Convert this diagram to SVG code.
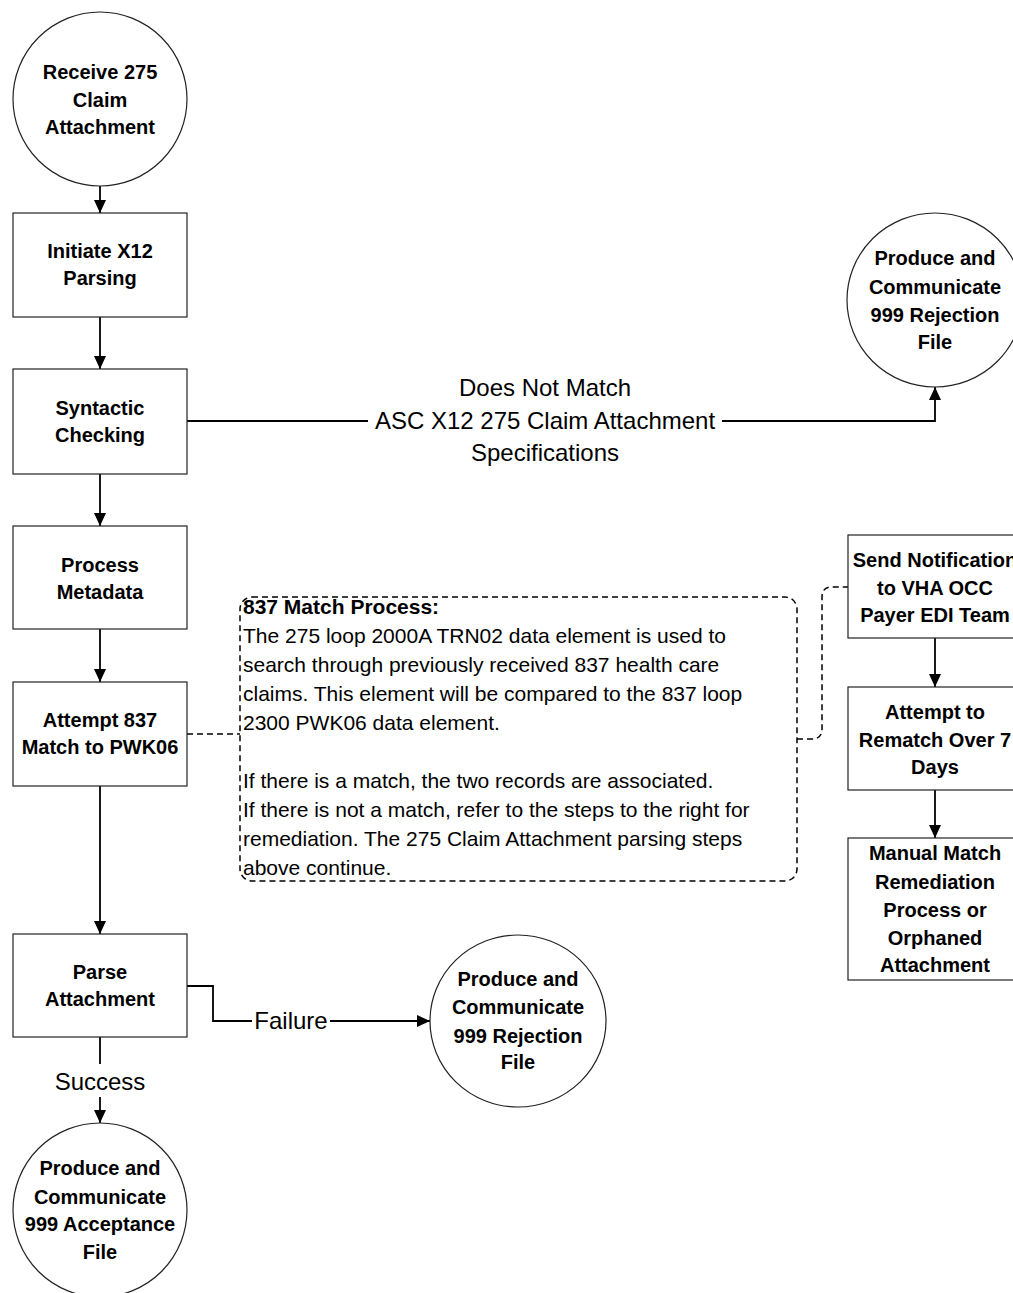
<svg xmlns="http://www.w3.org/2000/svg" width="1013" height="1293" viewBox="0 0 1013 1293">
<defs>
<marker id="arr" markerUnits="userSpaceOnUse" markerWidth="14" markerHeight="12" refX="13" refY="6" orient="auto">
<path d="M0,0 L13,6 L0,12 z" fill="#000"/>
</marker>
<style>
.shape{fill:#fff;stroke:#222;stroke-width:1.2}
.nt{font-family:"Liberation Sans",Arial,sans-serif;font-weight:bold;font-size:20px;fill:#000;text-anchor:middle}
.lbl{font-family:"Liberation Sans",Arial,sans-serif;font-size:24px;fill:#000;text-anchor:middle}
.ct{font-family:"Liberation Sans",Arial,sans-serif;font-size:21px;fill:#000}
.edge{fill:none;stroke:#000;stroke-width:1.8}
.dash{fill:none;stroke:#000;stroke-width:1.5;stroke-dasharray:6 4}
</style>
</defs>
<rect width="1013" height="1293" fill="#fff"/>

<g id="connectors">
<line class="edge" x1="100" y1="186" x2="100" y2="213" marker-end="url(#arr)"/>
<line class="edge" x1="100" y1="317" x2="100" y2="369" marker-end="url(#arr)"/>
<line class="edge" x1="100" y1="474" x2="100" y2="526" marker-end="url(#arr)"/>
<line class="edge" x1="100" y1="629" x2="100" y2="682" marker-end="url(#arr)"/>
<line class="edge" x1="100" y1="786" x2="100" y2="934" marker-end="url(#arr)"/>
<path class="edge" d="M187,421 H935 V387" marker-end="url(#arr)"/>
<rect x="368" y="405" width="354" height="32" fill="#fff"/>
<text class="lbl" x="545" y="396">Does Not Match</text>
<text class="lbl" x="545" y="429">ASC X12 275 Claim Attachment</text>
<text class="lbl" x="545" y="461">Specifications</text>
<path class="edge" d="M187,986 H213 V1021 H430" marker-end="url(#arr)"/>
<rect x="252" y="1006" width="78" height="30" fill="#fff"/>
<text class="lbl" x="291" y="1029">Failure</text>
<line class="edge" x1="100" y1="1037" x2="100" y2="1123" marker-end="url(#arr)"/>
<rect x="50" y="1064" width="100" height="33" fill="#fff"/>
<text class="lbl" x="100" y="1090">Success</text>
<line class="dash" x1="187" y1="734" x2="240" y2="734"/>
<path class="dash" d="M797,739 H812 Q822,739 822,729 V597 Q822,587 832,587 H848"/>
<line class="edge" x1="935" y1="638" x2="935" y2="687" marker-end="url(#arr)"/>
<line class="edge" x1="935" y1="790" x2="935" y2="838" marker-end="url(#arr)"/>
</g>

<g id="receive">
<ellipse class="shape" cx="100" cy="99" rx="87" ry="87"/>
<text class="nt"><tspan x="100" y="79">Receive 275</tspan><tspan x="100" y="107">Claim</tspan><tspan x="100" y="134">Attachment</tspan></text>
</g>
<g id="initiate">
<rect class="shape" x="13" y="213" width="174" height="104"/>
<text class="nt"><tspan x="100" y="258">Initiate X12</tspan><tspan x="100" y="285">Parsing</tspan></text>
</g>
<g id="syntactic">
<rect class="shape" x="13" y="369" width="174" height="105"/>
<text class="nt"><tspan x="100" y="415">Syntactic</tspan><tspan x="100" y="442">Checking</tspan></text>
</g>
<g id="metadata">
<rect class="shape" x="13" y="526" width="174" height="103"/>
<text class="nt"><tspan x="100" y="572">Process</tspan><tspan x="100" y="599">Metadata</tspan></text>
</g>
<g id="attempt837">
<rect class="shape" x="13" y="682" width="174" height="104"/>
<text class="nt"><tspan x="100" y="727">Attempt 837</tspan><tspan x="100" y="754">Match to PWK06</tspan></text>
</g>
<g id="parse">
<rect class="shape" x="13" y="934" width="174" height="103"/>
<text class="nt"><tspan x="100" y="979">Parse</tspan><tspan x="100" y="1006">Attachment</tspan></text>
</g>
<g id="reject1">
<ellipse class="shape" cx="935" cy="300" rx="88" ry="87"/>
<text class="nt"><tspan x="935" y="265">Produce and</tspan><tspan x="935" y="294">Communicate</tspan><tspan x="935" y="322">999 Rejection</tspan><tspan x="935" y="349">File</tspan></text>
</g>
<g id="reject2">
<ellipse class="shape" cx="518" cy="1021" rx="88" ry="86"/>
<text class="nt"><tspan x="518" y="986">Produce and</tspan><tspan x="518" y="1014">Communicate</tspan><tspan x="518" y="1043">999 Rejection</tspan><tspan x="518" y="1069">File</tspan></text>
</g>
<g id="accept">
<ellipse class="shape" cx="100" cy="1210" rx="87" ry="87"/>
<text class="nt"><tspan x="100" y="1175">Produce and</tspan><tspan x="100" y="1204">Communicate</tspan><tspan x="100" y="1231">999 Acceptance</tspan><tspan x="100" y="1259">File</tspan></text>
</g>
<g id="callout">
<rect x="240" y="597" width="557" height="284" rx="12" ry="12" fill="#fff" stroke="#000" stroke-width="1.5" stroke-dasharray="6 4"/>
<text class="ct" x="243" y="614" font-weight="bold">837 Match Process:</text>
<text class="ct" x="243" y="643">The 275 loop 2000A TRN02 data element is used to</text>
<text class="ct" x="243" y="672">search through previously received 837 health care</text>
<text class="ct" x="243" y="701">claims. This element will be compared to the 837 loop</text>
<text class="ct" x="243" y="730">2300 PWK06 data element.</text>
<text class="ct" x="243" y="788">If there is a match, the two records are associated.</text>
<text class="ct" x="243" y="817">If there is not a match, refer to the steps to the right for</text>
<text class="ct" x="243" y="846">remediation. The 275 Claim Attachment parsing steps</text>
<text class="ct" x="243" y="875">above continue.</text>
</g>
<g id="notify">
<rect class="shape" x="848" y="535" width="174" height="103"/>
<text class="nt"><tspan x="935" y="567">Send Notification</tspan><tspan x="935" y="595">to VHA OCC</tspan><tspan x="935" y="622">Payer EDI Team</tspan></text>
</g>
<g id="rematch">
<rect class="shape" x="848" y="687" width="174" height="103"/>
<text class="nt"><tspan x="935" y="719">Attempt to</tspan><tspan x="935" y="747">Rematch Over 7</tspan><tspan x="935" y="774">Days</tspan></text>
</g>
<g id="manual">
<rect class="shape" x="848" y="838" width="174" height="142"/>
<text class="nt"><tspan x="935" y="860">Manual Match</tspan><tspan x="935" y="889">Remediation</tspan><tspan x="935" y="917">Process or</tspan><tspan x="935" y="945">Orphaned</tspan><tspan x="935" y="972">Attachment</tspan></text>
</g>
</svg>
